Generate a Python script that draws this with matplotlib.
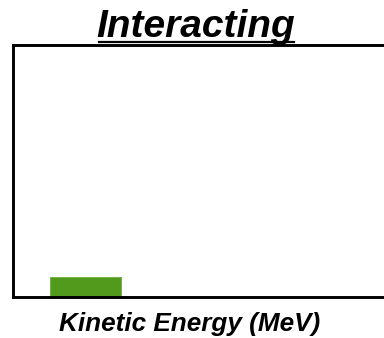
import matplotlib.pyplot as plt
from matplotlib.lines import Line2D

plt.rcParams['font.family'] = ['Liberation Sans', 'DejaVu Sans']

# histogram of kinetic energy, interacting sample
bin_left = [1.0]
bin_width = [1.8]
counts = [1.0]

fig = plt.figure(figsize=(3.84, 3.38), dpi=100)
ax = fig.add_axes([13 / 384, 41 / 338, 1.0, 252 / 338])

ax.bar(bin_left, counts, width=bin_width, align='edge', color='#529a1c',
       edgecolor='#6aae3c', linewidth=0.6, zorder=1)

ax.set_xlim(0.05, 9.8)
ax.set_ylim(0, 12.5)
ax.set_xticks([])
ax.set_yticks([])
for side in ['left', 'top', 'bottom']:
    ax.spines[side].set_linewidth(2.1)
ax.spines['right'].set_visible(False)

# title with underline
title = fig.text(196 / 384, 1 - 37 / 338, 'Interacting', ha='center', va='baseline',
                 fontsize=28, fontweight='bold', fontstyle='italic')
fig.canvas.draw()
bb = title.get_window_extent()
fig.add_artist(Line2D([bb.x0 / 384 + 0.006, bb.x1 / 384 - 0.004],
                      [1 - 41.5 / 338, 1 - 41.5 / 338], color='black', linewidth=1.6))

fig.text(190 / 384, 1 - 331 / 338, 'Kinetic Energy (MeV)', ha='center', va='baseline',
         fontsize=18.8, fontweight='bold', fontstyle='italic')

fig.savefig('out.png', dpi=100)
